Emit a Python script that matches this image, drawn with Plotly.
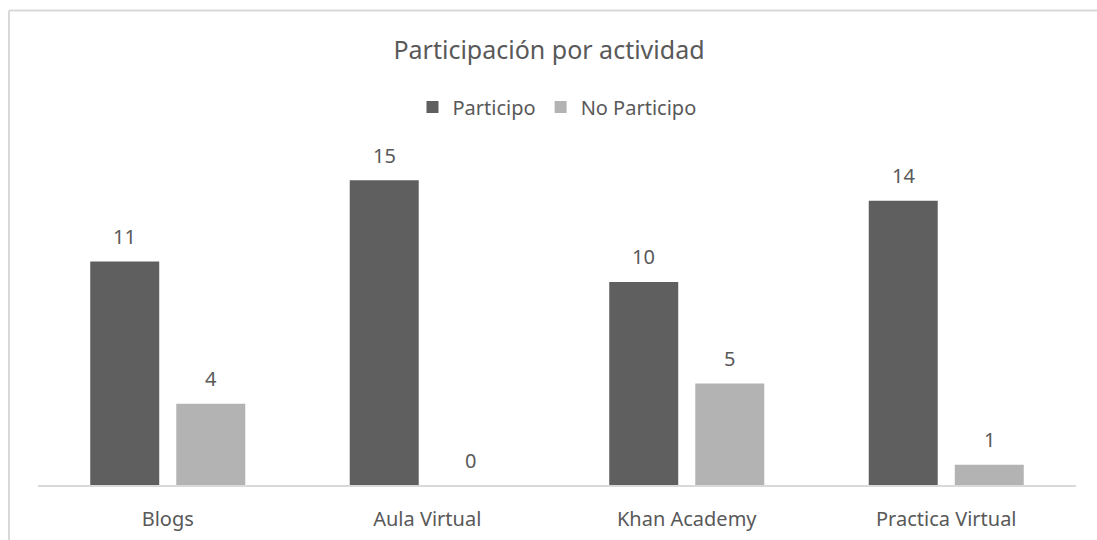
import plotly.graph_objects as go

categorias = ["Blogs", "Aula Virtual", "Khan Academy", "Practica Virtual"]
participo = [11, 15, 10, 14]
no_participo = [4, 0, 5, 1]
series = ["Participo", "No Participo"]

W, H = 1097, 540
ML, MR, MT, MB = 38, 21, 160, 55
FONT = "Noto Sans"
TXT = "#595959"

fig = go.Figure()
fig.add_trace(go.Bar(x=categorias, y=participo, name=series[0],
                     marker=dict(color="#5f5f5f", line=dict(width=0))))
fig.add_trace(go.Bar(x=categorias, y=no_participo, name=series[1],
                     marker=dict(color="#b3b3b3", line=dict(width=0))))

BARGAP = 0.337
# offset of each bar's centre from the category centre (px)
off = (W - ML - MR) / len(categorias) * (1 - BARGAP) / 4
for vals, sh in ((participo, -off), (no_participo, off)):
    for c, v in zip(categorias, vals):
        fig.add_annotation(x=c, y=v, text=str(v), showarrow=False,
                           xshift=sh, yshift=25, yanchor="middle",
                           font=dict(family=FONT, size=20, color=TXT))

pw, ph = W - ML - MR, H - MT - MB
def px(x): return (x - ML) / pw
def py(y): return (H - MB - y) / ph

# chart border (light gray): top and left edges visible
border = dict(color="#d9d9d9", width=2)
fig.add_shape(type="line", xref="paper", yref="paper",
              x0=px(9), x1=px(W + 5), y0=py(10.5), y1=py(10.5), line=border)
fig.add_shape(type="line", xref="paper", yref="paper",
              x0=px(9), x1=px(9), y0=py(10.5), y1=py(H + 5), line=border)

fig.update_layout(
    width=W, height=H,
    margin=dict(l=ML, r=MR, t=MT, b=MB, autoexpand=False),
    paper_bgcolor="white", plot_bgcolor="white",
    barmode="group", bargap=BARGAP, bargroupgap=0.198,
    title=dict(text="Participación por actividad", x=(ML + pw / 2 - 8) / W,
               xanchor="center", y=1 - 50 / H, yanchor="middle",
               font=dict(family=FONT, size=25, color=TXT)),
    legend=dict(orientation="h", x=0.5, xanchor="center", y=py(107),
                yanchor="middle", font=dict(family=FONT, size=20, color=TXT),
                itemwidth=30, traceorder="normal"),
    xaxis=dict(showline=True, linecolor="#d9d9d9", linewidth=1.5,
               ticks="", ticklabelstandoff=15, automargin=False,
               tickfont=dict(family=FONT, size=20, color=TXT)),
    yaxis=dict(range=[0, 16], visible=False, showgrid=False),
    showlegend=True,
)

# drop the default body margin so the figure sits at the page corner
fig.write_html("out.html", config={"displayModeBar": False},
               post_script="document.body.style.margin='0';"
                           "document.body.style.overflow='hidden';")
